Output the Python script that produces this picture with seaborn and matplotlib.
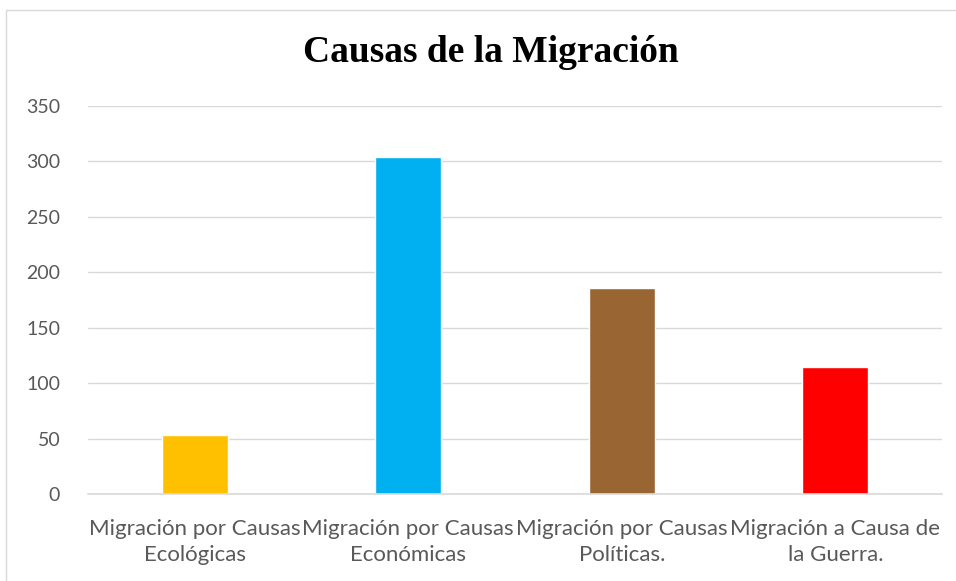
import matplotlib
matplotlib.use("Agg")
import matplotlib.pyplot as plt
import seaborn as sns
import pandas as pd
from matplotlib.patches import Rectangle

# data
categorias = ["Migración por Causas\nEcológicas",
              "Migración por Causas\nEconómicas",
              "Migración por Causas\nPolíticas.",
              "Migración a Causa de\nla Guerra."]
valores = [53, 304, 186, 115]
colores = ["#FFC000", "#00B0F0", "#996633", "#FF0000"]
y_ticks = [0, 50, 100, 150, 200, 250, 300, 350]

df = pd.DataFrame({"causa": categorias, "valor": valores})

sns.set_theme(style="white")
plt.rcParams["font.family"] = ["Lato", "DejaVu Sans"]

fig = plt.figure(figsize=(9.56, 5.81), dpi=100)
ax = fig.add_axes([88 / 956, 1 - 494 / 581, (942 - 88) / 956, (494 - 106) / 581])

sns.barplot(data=df, x="causa", y="valor", hue="causa", palette=colores,
            legend=False, width=0.31, saturation=1, ax=ax)

ax.set_ylim(0, 350)
ax.set_yticks(y_ticks)
ax.set_xlim(-0.5, len(categorias) - 0.5)
ax.yaxis.grid(True, color="#D9D9D9", linewidth=1)
ax.set_axisbelow(True)
for s in ["top", "right", "left"]:
    ax.spines[s].set_visible(False)
ax.spines["bottom"].set_color("#D9D9D9")
ax.spines["bottom"].set_linewidth(1.2)
ax.set_xlabel("")
ax.set_ylabel("")
ax.tick_params(axis="both", length=0, labelcolor="#595959")
ax.tick_params(axis="y", pad=20, labelsize=14)
ax.tick_params(axis="x", pad=18, labelsize=16)
for lbl in ax.get_xticklabels():
    lbl.set_linespacing(1.4)

fig.text(491 / 956, 1 - 52 / 581, "Causas de la Migración", ha="center", va="center",
         fontsize=27, fontweight="bold", family="Liberation Serif", color="black")

# light chart border
fig.patches.append(Rectangle((6 / 956, -0.01), 1.0, 1 - 10 / 581 + 0.01,
                             transform=fig.transFigure, fill=False,
                             edgecolor="#D9D9D9", linewidth=1))

fig.savefig("out.png", dpi=100)
